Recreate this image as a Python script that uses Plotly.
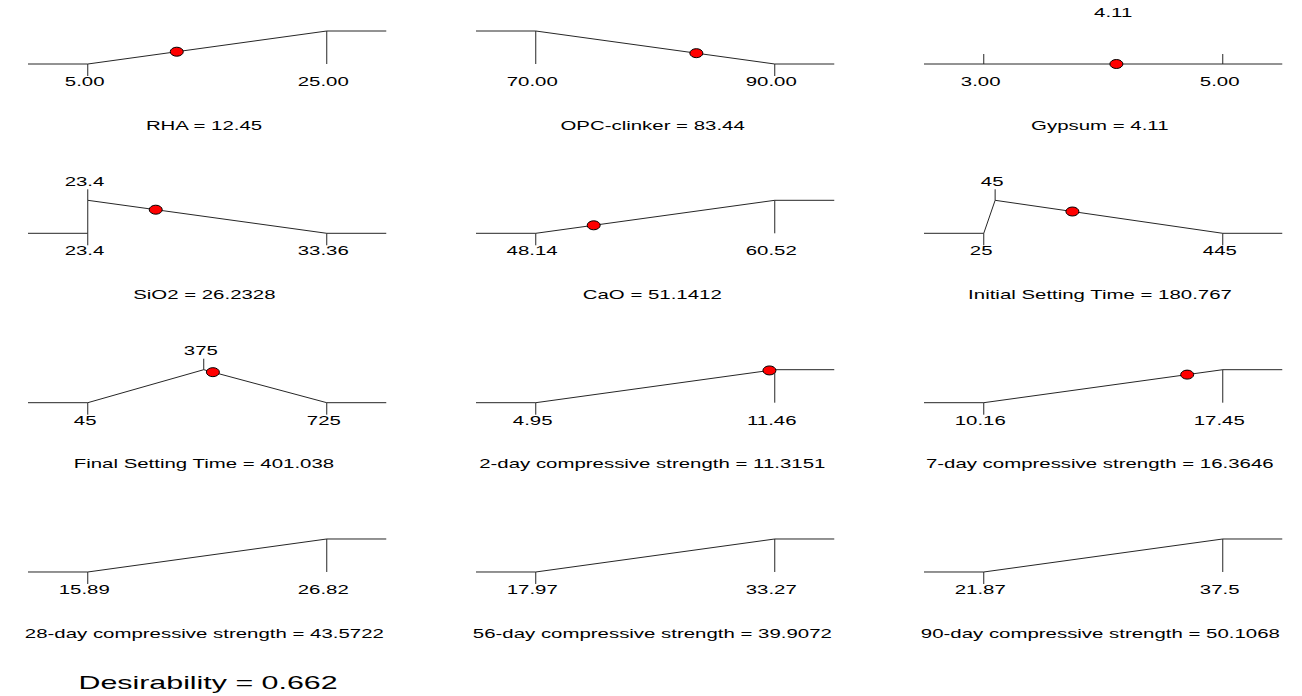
import plotly.graph_objects as go

# ---------------- data ----------------
names = ["RHA", "OPC-clinker", "Gypsum", "SiO2", "CaO", "Initial Setting Time",
         "Final Setting Time", "2-day compressive strength", "7-day compressive strength",
         "28-day compressive strength", "56-day compressive strength",
         "90-day compressive strength"]
goals = ["max", "min", "range", "target", "max", "target",
         "target", "max", "max", "max", "max", "max"]
lows = [5, 70, 3, 23.4, 48.14, 25, 45, 4.95, 10.16, 15.89, 17.97, 21.87]
highs = [25, 90, 5, 33.36, 60.52, 445, 725, 11.46, 17.45, 26.82, 33.27, 37.5]
targets = [None, None, None, 23.4, None, 45, 375, None, None, None, None, None]
low_labels = ["5.00", "70.00", "3.00", "23.4", "48.14", "25", "45",
              "4.95", "10.16", "15.89", "17.97", "21.87"]
high_labels = ["25.00", "90.00", "5.00", "33.36", "60.52", "445", "725",
               "11.46", "17.45", "26.82", "33.27", "37.5"]
top_labels = [None, None, "4.11", "23.4", None, "45", "375",
              None, None, None, None, None]
values = [12.45, 83.44, 4.11, 26.2328, 51.1412, 180.767, 401.038,
          11.3151, 16.3646, 43.5722, 39.9072, 50.1068]
value_labels = ["12.45", "83.44", "4.11", "26.2328", "51.1412", "180.767", "401.038",
                "11.3151", "16.3646", "43.5722", "39.9072", "50.1068"]
desirability_label = "0.662"

# ---------------- layout constants ----------------
W, H = 1302, 696
FONT = "Liberation Sans, Arial, sans-serif"
PX_PER_UNIT = 33.0          # vertical pixels for desirability 0 -> 1
TICK_DN = 12 / PX_PER_UNIT
TICK_UP = 11 / PX_PER_UNIT
TICK_RANGE = 10 / PX_PER_UNIT
LBL_DN = -17.5 / PX_PER_UNIT
LBL_UP = 1 + 19 / PX_PER_UNIT
TITLE_Y = -61 / PX_PER_UNIT
Y_LO, Y_HI = -2.0, 1.8
EXT = 0.25                  # extension of the flat parts, fraction of range
LBL_SHIFT = -3
col_left = [28, 476, 924]
panel_w = 358.5
row_base = [64, 233.3, 402.7, 572]


def level(goal, lo, hi, tg, v):
    if goal == "max":
        d = (v - lo) / (hi - lo)
    elif goal == "min":
        d = (hi - v) / (hi - lo)
    elif goal == "target":
        if v <= tg:
            d = 1.0 if tg == lo else (v - lo) / (tg - lo)
        else:
            d = (hi - v) / (hi - tg)
    else:
        d = 0.0
    return max(0.0, min(1.0, d))


fig = go.Figure()
annotations = []
shapes = []
layout = {}

for i, name in enumerate(names):
    r, c = divmod(i, 3)
    sfx = "" if i == 0 else str(i + 1)
    xa, ya = "x" + sfx, "y" + sfx
    lo, hi, tg, g = lows[i], highs[i], targets[i], goals[i]
    e = EXT * (hi - lo)
    xl, xr = lo - e, hi + e

    L = col_left[c]
    B = row_base[r]
    layout["xaxis" + sfx] = dict(domain=[L / W, (L + panel_w) / W], range=[xl, xr],
                                 visible=False, anchor=ya, fixedrange=True)
    layout["yaxis" + sfx] = dict(domain=[1 - (B - Y_LO * PX_PER_UNIT) / H,
                                         1 - (B - Y_HI * PX_PER_UNIT) / H],
                                 range=[Y_LO, Y_HI], visible=False, anchor=xa,
                                 fixedrange=True)

    xs, ys = [], []

    def seg(x0, y0, x1, y1):
        xs.extend([x0, x1, None])
        ys.extend([y0, y1, None])

    if g == "max":
        seg(xl, 0, lo, 0)
        seg(lo, 0, hi, 1)
        seg(hi, 1, xr, 1)
        seg(hi, 1, hi, 0)
        seg(lo, 0, lo, -TICK_DN)
    elif g == "min":
        seg(xl, 1, lo, 1)
        seg(lo, 1, lo, 0)
        seg(lo, 1, hi, 0)
        seg(hi, 0, xr, 0)
        seg(hi, 0, hi, -TICK_DN)
    elif g == "target":
        seg(xl, 0, lo, 0)
        seg(lo, 0, tg, 1)
        seg(tg, 1, hi, 0)
        seg(hi, 0, xr, 0)
        seg(lo, 0, lo, -TICK_DN)
        seg(hi, 0, hi, -TICK_DN)
        seg(tg, 1, tg, 1 + TICK_UP)
    else:  # in range
        seg(xl, 0, xr, 0)
        seg(lo, 0, lo, TICK_RANGE)
        seg(hi, 0, hi, TICK_RANGE)

    fig.add_trace(go.Scatter(x=xs, y=ys, mode="lines", xaxis=xa, yaxis=ya,
                             line=dict(color="#262626", width=1),
                             hoverinfo="skip", showlegend=False, cliponaxis=False))

    tick_font = dict(family=FONT, size=13, color="#000000")
    annotations.append(dict(x=lo, y=LBL_DN, xref=xa, yref=ya, text=low_labels[i],
                            showarrow=False, font=tick_font, yanchor="middle",
                            xshift=LBL_SHIFT))
    annotations.append(dict(x=hi, y=LBL_DN, xref=xa, yref=ya, text=high_labels[i],
                            showarrow=False, font=tick_font, yanchor="middle",
                            xshift=LBL_SHIFT))
    if top_labels[i] is not None:
        tx = tg if g == "target" else values[i]
        annotations.append(dict(x=tx, y=LBL_UP, xref=xa, yref=ya, text=top_labels[i],
                                showarrow=False, font=tick_font, yanchor="middle",
                                xshift=LBL_SHIFT))
    annotations.append(dict(x=0.5, y=TITLE_Y, xref=xa + " domain", yref=ya,
                            text=f"{name} = {value_labels[i]}", showarrow=False,
                            font=dict(family=FONT, size=13, color="#000000"),
                            yanchor="middle", xshift=LBL_SHIFT))

    v = values[i]
    if xl <= v <= xr:
        d = level(g, lo, hi, tg, v)
        shapes.append(dict(type="circle", xref=xa, yref=ya,
                           xsizemode="pixel", ysizemode="pixel",
                           xanchor=v, yanchor=d, x0=-6.5, x1=6.5, y0=-4.5, y1=4.5,
                           fillcolor="#ff0000", line=dict(color="#000000", width=1),
                           layer="above"))

annotations.append(dict(x=207.5 / W, y=1 - 682 / H, xref="paper", yref="paper",
                        text=f"Desirability = {desirability_label}", showarrow=False,
                        font=dict(family=FONT, size=19, color="#000000"),
                        xanchor="center", yanchor="middle"))

fig.update_layout(width=W, height=H, margin=dict(l=0, r=0, t=0, b=0),
                  paper_bgcolor="white", plot_bgcolor="white",
                  annotations=annotations, shapes=shapes, showlegend=False,
                  **layout)

post = """
document.body.style.margin = '0';
var gd = document.getElementById('{plot_id}');
gd.querySelectorAll('text.annotation-text').forEach(function(t){
  var fs = parseFloat(t.style.fontSize) || 13;
  var s = fs > 16 ? 1.6 : 1.57;
  t.style.transformBox = 'fill-box';
  t.style.transformOrigin = 'center';
  t.style.transform = 'scaleX(' + s + ')';
});
"""

fig.write_html("out.html", post_script=post, config={"displayModeBar": False})
